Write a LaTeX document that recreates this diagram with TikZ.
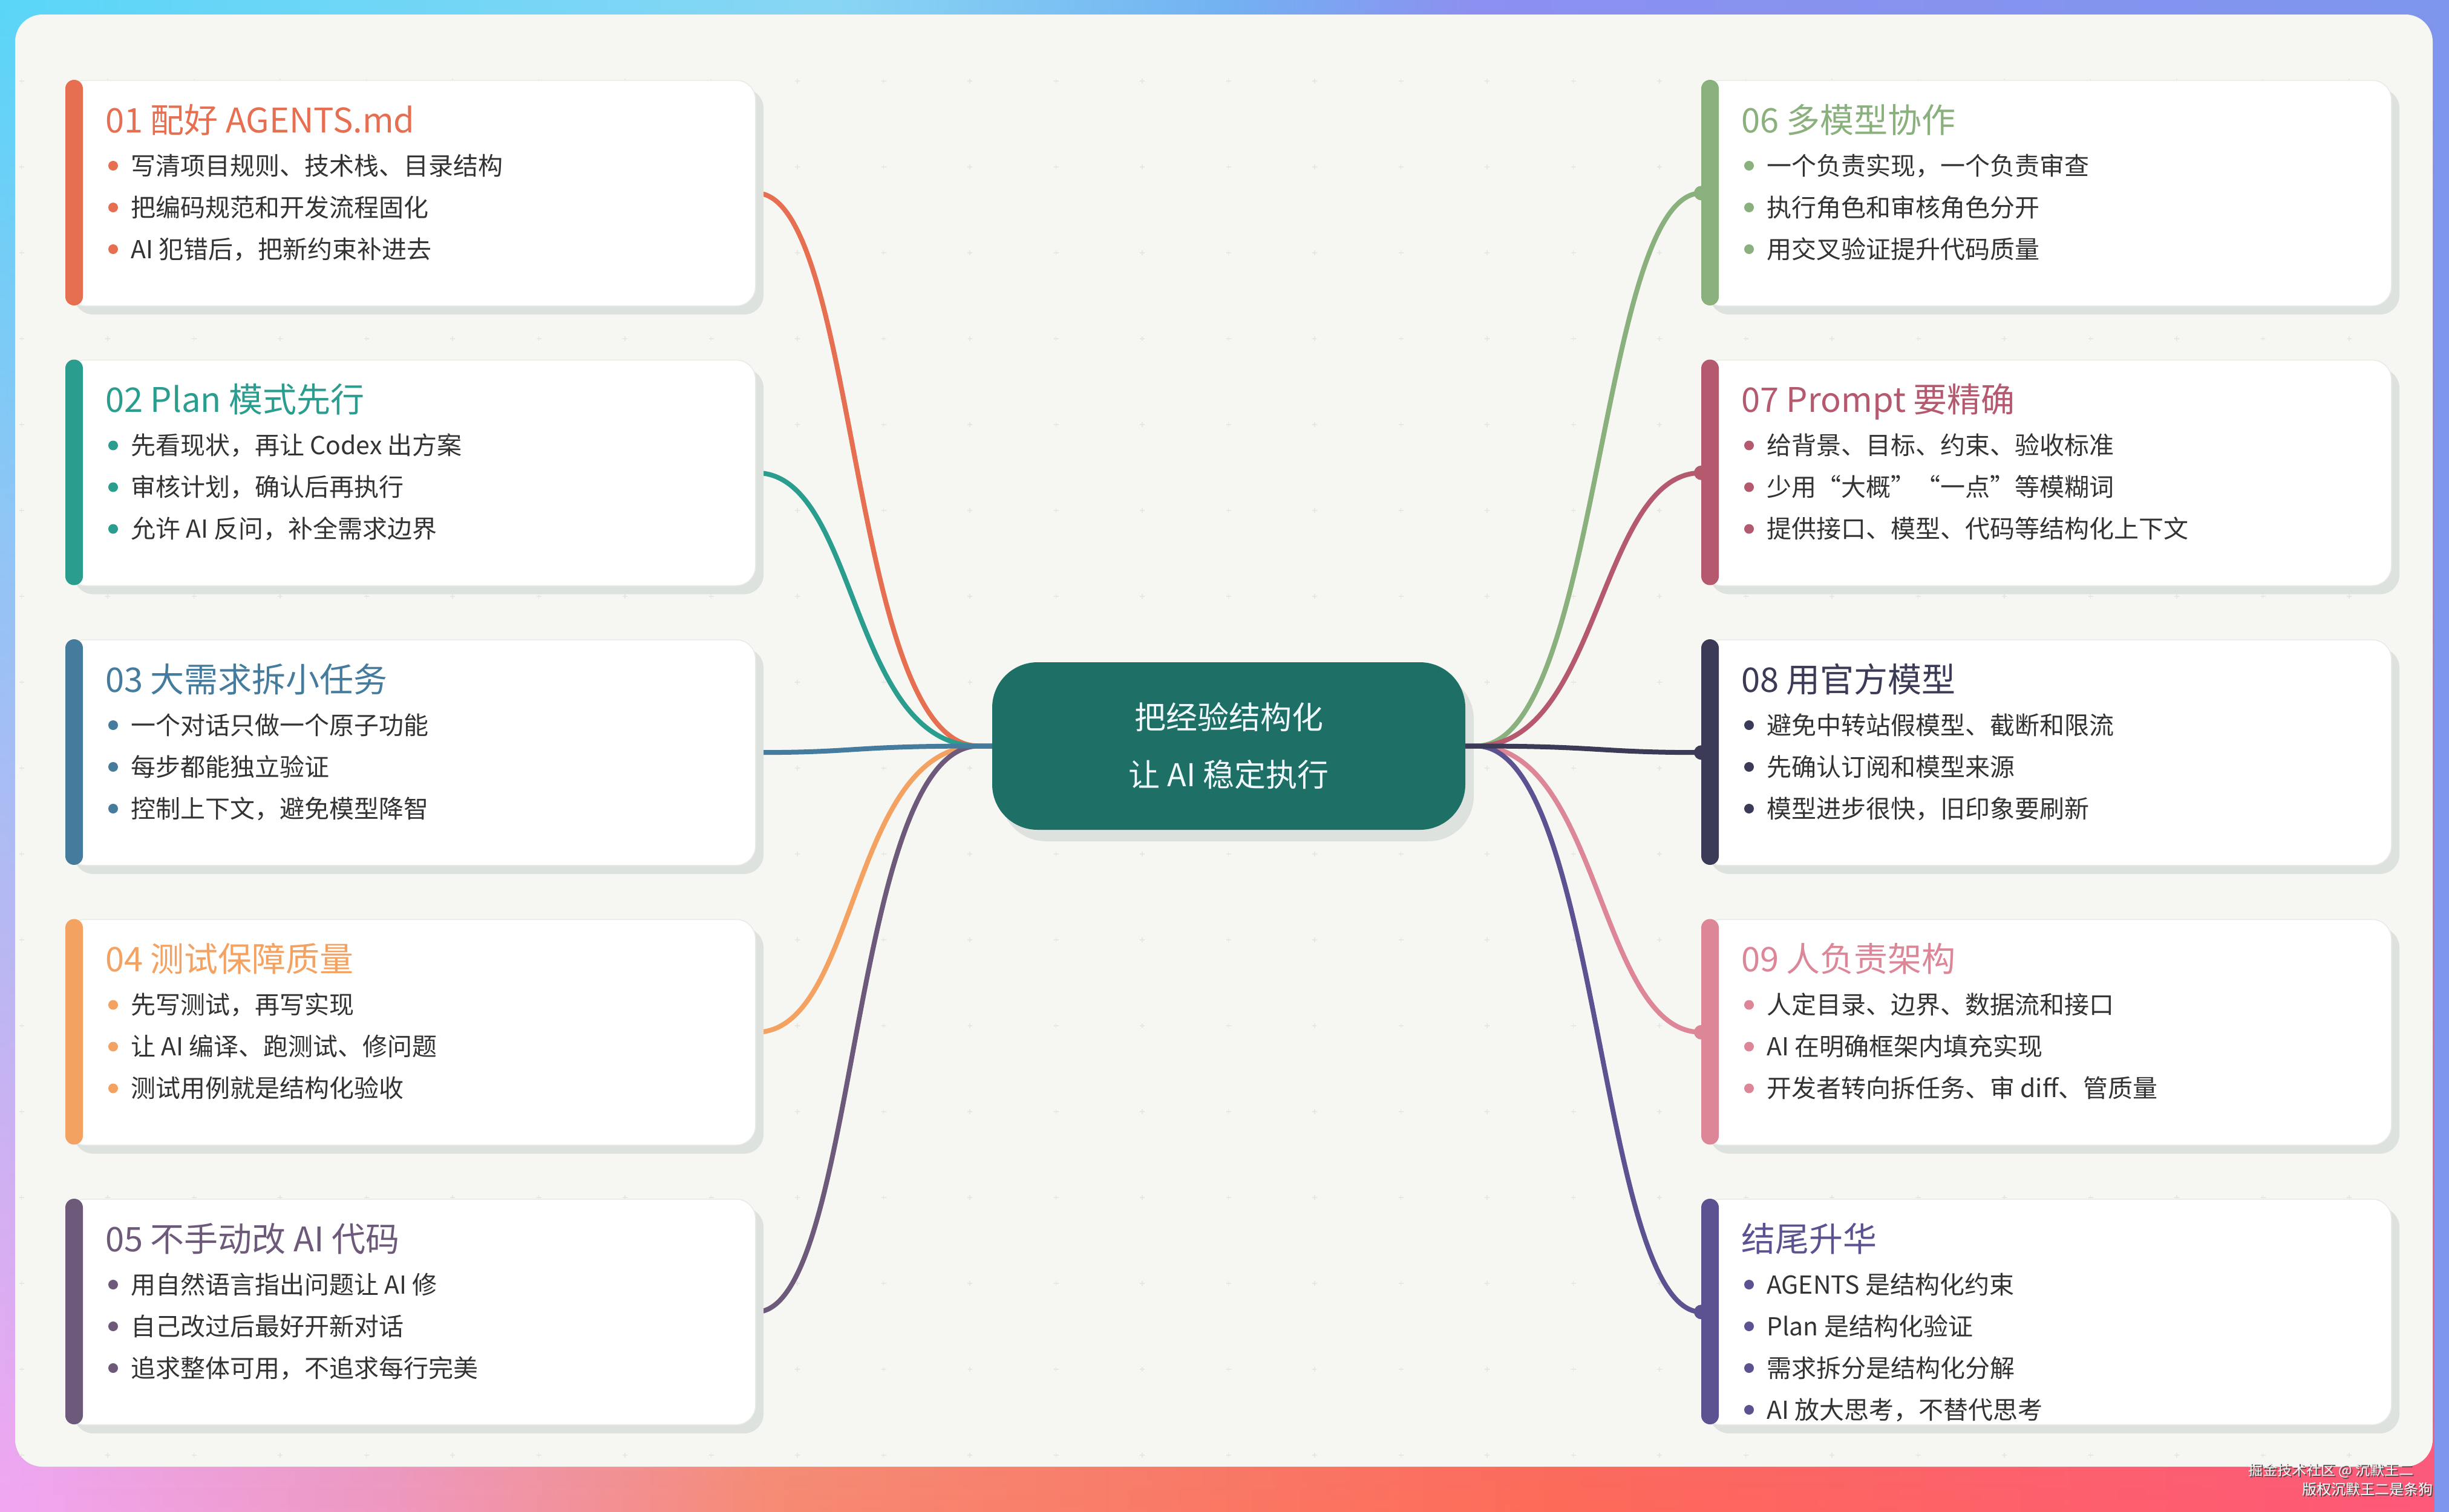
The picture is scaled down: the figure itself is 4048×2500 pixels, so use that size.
\documentclass[tikz,border=0pt]{standalone}
\usepackage{fontspec}
\setmainfont{Noto Sans CJK SC}
\usetikzlibrary{fadings,calc}

\definecolor{cA}{HTML}{E76F51}
\definecolor{cB}{HTML}{2A9D8F}
\definecolor{cC}{HTML}{457B9D}
\definecolor{cD}{HTML}{F4A261}
\definecolor{cE}{HTML}{6D597A}
\definecolor{cF}{HTML}{8AB17D}
\definecolor{cG}{HTML}{B5596F}
\definecolor{cH}{HTML}{3B3B57}
\definecolor{cI}{HTML}{DD8698}
\definecolor{cJ}{HTML}{5C5291}
\definecolor{centercol}{HTML}{1E6F66}
\definecolor{panelcol}{HTML}{F6F7F2}
\definecolor{shadowcol}{HTML}{DEE2DE}
\definecolor{cardline}{HTML}{E9EBE7}
\definecolor{bodytext}{HTML}{333333}
\definecolor{gridcol}{HTML}{E6E8E3}
\definecolor{tg1}{HTML}{5AD6F8}
\definecolor{tg2}{HTML}{88D6F4}
\definecolor{tg3}{HTML}{72B2F2}
\definecolor{tg4}{HTML}{8C90F0}
\definecolor{tg5}{HTML}{7E96EE}
\definecolor{bg1}{HTML}{F2A6F2}
\definecolor{bg2}{HTML}{F098C0}
\definecolor{bg3}{HTML}{F88A72}
\definecolor{bg4}{HTML}{FF6A58}
\definecolor{bg5}{HTML}{FF5878}

\pgfdeclarehorizontalshading{topgrad}{100bp}{color(0bp)=(tg1); color(25bp)=(tg1); color(42bp)=(tg2); color(50bp)=(tg3); color(55bp)=(tg4); color(75bp)=(tg5); color(100bp)=(tg5)}
\pgfdeclarehorizontalshading{botgrad}{100bp}{color(0bp)=(bg1); color(25bp)=(bg1); color(33bp)=(bg2); color(41bp)=(bg3); color(57bp)=(bg4); color(75bp)=(bg5); color(100bp)=(bg5)}
\tikzfading[name=botfade, top color=transparent!100, middle color=transparent!88, bottom color=transparent!0]

\pgfdeclarelayer{back}
\pgfdeclarelayer{lines}
\pgfsetlayers{back,lines,main}

\tikzset{
  cardbox/.style={rectangle, fill=white, draw=cardline, line width=1.5pt, rounded corners=32pt,
    minimum width=1140pt, minimum height=373pt, inner sep=0pt},
  titletxt/.style={font=\fontsize{56}{62}\selectfont, inner sep=0pt},
  bultxt/.style={font=\fontsize{41}{48}\selectfont, text=bodytext, inner sep=0pt},
  conn/.style={line width=8pt, line cap=round},
  gridmark/.style={draw=gridcol, line width=1.5pt},
  centerbox/.style={rectangle, fill=centercol, rounded corners=75pt, minimum width=782pt,
    minimum height=277pt, inner sep=0pt, text=white!94!cyan, align=center,
    font=\fontsize{52}{95}\selectfont},
  wmtxt/.style={font=\fontsize{24}{28}\selectfont, inner sep=0pt, anchor=base east}
}

\newcommand\mmcard[6]{%
  \fill[shadowcol, rounded corners=32pt] ({#2+14},{#3+15}) rectangle ++(1140,373);
  \node[cardbox, anchor=north west] (#1) at (#2,#3) {};
  \fill[#4, rounded corners=14.5pt] (#2,#3) rectangle ++(29,373);
  \node[titletxt, text=#4, anchor=base west] (#1t) at ({#2+66},{#3+66+21}) {#5};
  \foreach \bt [count=\bi] in {#6} {
    \fill[#4] ({#2+79},{#3+142+69*(\bi-1)}) circle (8);
    \node[bultxt, anchor=base west] (#1b\bi) at ({#2+108},{#3+142+69*(\bi-1)+15}) {\bt};
  }
}

\begin{document}
\begin{tikzpicture}[x=1pt,y=-1pt]
\useasboundingbox (0,0) rectangle (4048,2500);

\begin{pgfonlayer}{back}
  \shade[shading=topgrad] (0,0) rectangle (4048,2500);
  \shade[shading=botgrad, path fading=botfade] (0,0) rectangle (4048,2500);
  \fill[panelcol, rounded corners=45pt] (25,24) rectangle (4021,2425);
  \foreach \gx in {0,...,27} {
    \foreach \gy in {0,...,16} {
      \draw[gridmark] ({35.5+142.5*\gx-4},{134+142*\gy}) -- ++(8,0)
                      ({35.5+142.5*\gx},{134+142*\gy-4}) -- ++(0,8);
    }
  }
  \fill[shadowcol, rounded corners=75pt] (1654,1114) rectangle (2436,1391);
\end{pgfonlayer}

% central node
\node[centerbox] (center) at (2031,1233.5) {把经验结构化\\让 AI 稳定执行};
\coordinate (jl) at ($(center.west)+(-22,0)$);
\coordinate (jr) at ($(center.east)+(18,0)$);

% left cards
\mmcard{n1}{108}{132}{cA}{01 配好 AGENTS.md}{写清项目规则、技术栈、目录结构, 把编码规范和开发流程固化, AI 犯错后，把新约束补进去}
\mmcard{n2}{108}{594.5}{cB}{02 Plan 模式先行}{先看现状，再让 Codex 出方案, 审核计划，确认后再执行, 允许 AI 反问，补全需求边界}
\mmcard{n3}{108}{1057}{cC}{03 大需求拆小任务}{一个对话只做一个原子功能, 每步都能独立验证, 控制上下文，避免模型降智}
\mmcard{n4}{108}{1519.5}{cD}{04 测试保障质量}{先写测试，再写实现, 让 AI 编译、跑测试、修问题, 测试用例就是结构化验收}
\mmcard{n5}{108}{1982}{cE}{05 不手动改 AI 代码}{用自然语言指出问题让 AI 修, 自己改过后最好开新对话, 追求整体可用，不追求每行完美}

% right cards
\mmcard{n6}{2812}{132}{cF}{06 多模型协作}{一个负责实现，一个负责审查, 执行角色和审核角色分开, 用交叉验证提升代码质量}
\mmcard{n7}{2812}{594.5}{cG}{07 Prompt 要精确}{给背景、目标、约束、验收标准, 少用“大概”“一点”等模糊词, 提供接口、模型、代码等结构化上下文}
\mmcard{n8}{2812}{1057}{cH}{08 用官方模型}{避免中转站假模型、截断和限流, 先确认订阅和模型来源, 模型进步很快，旧印象要刷新}
\mmcard{n9}{2812}{1519.5}{cI}{09 人负责架构}{人定目录、边界、数据流和接口, AI 在明确框架内填充实现, 开发者转向拆任务、审 diff、管质量}
\mmcard{n10}{2812}{1982}{cJ}{结尾升华}{AGENTS 是结构化约束, Plan 是结构化验证, 需求拆分是结构化分解, AI 放大思考，不替代思考}

% junction dots on right cards
\fill[cF] (n6.west) circle (12);
\fill[cG] (n7.west) circle (12);
\fill[cH] (n8.west) circle (12);
\fill[cI] (n9.west) circle (12);
\fill[cJ] (n10.west) circle (12);

% connectors
\begin{pgfonlayer}{lines}
  \draw[conn, cA] (n1.east) .. controls +(170,0) and +(-215,0) .. (jl) -- (center.west);
  \draw[conn, cB] (n2.east) .. controls +(170,0) and +(-215,0) .. (jl) -- (center.west);
  \draw[conn, cD] (n4.east) .. controls +(170,0) and +(-215,0) .. (jl) -- (center.west);
  \draw[conn, cE] (n5.east) .. controls +(170,0) and +(-215,0) .. (jl) -- (center.west);
  \draw[conn, cC] (n3.east) .. controls +(170,0) and +(-215,0) .. (jl) -- (center.west);
  \draw[conn, cF] (center.east) -- (jr) .. controls +(205,0) and +(-170,0) .. (n6.west);
  \draw[conn, cG] (center.east) -- (jr) .. controls +(205,0) and +(-170,0) .. (n7.west);
  \draw[conn, cI] (center.east) -- (jr) .. controls +(205,0) and +(-170,0) .. (n9.west);
  \draw[conn, cJ] (center.east) -- (jr) .. controls +(205,0) and +(-170,0) .. (n10.west);
  \draw[conn, cH] (center.east) -- (jr) .. controls +(205,0) and +(-170,0) .. (n8.west);
\end{pgfonlayer}

% watermark
\node[wmtxt, text=black!70] (wm1s) at (3992,2441) {掘金技术社区 @ 沉默王二};
\node[wmtxt, text=white!92!gray] (wm1) at (3990,2439) {掘金技术社区 @ 沉默王二};
\node[wmtxt, text=black!70] (wm2s) at (4024,2473) {版权沉默王二是条狗};
\node[wmtxt, text=white] (wm2) at (4022,2471) {版权沉默王二是条狗};
\end{tikzpicture}
\end{document}
